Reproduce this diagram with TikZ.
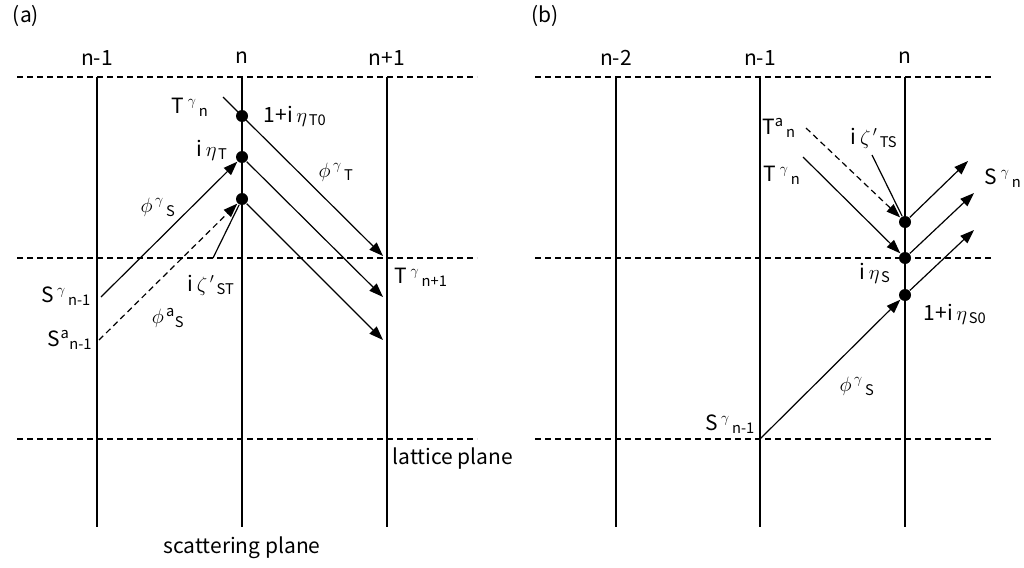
\documentclass[tikz,border=0pt]{standalone}
\usepackage{amsmath}
\usepackage{fontspec}
\setmainfont{Noto Sans CJK JP}
\usetikzlibrary{arrows.meta}
\tikzset{>={Triangle[length=14pt,width=10pt]},every node/.style={font=\fontsize{21}{24}\selectfont,inner sep=1pt},
wave/.style={->},lat/.style={dash pattern=on 6pt off 4pt},dot/.style={circle,fill,inner sep=0pt,minimum size=12pt}}

\begin{document}
\begin{tikzpicture}[x=1pt,y=-1pt,line width=1.2pt]
\useasboundingbox (0,0) rectangle (1024,567);
% (a) : onde T diffusee au plan n
\node (pa) at (26,16) {(a)};
\foreach \y in {77,258,439} \draw[lat] (17,\y)--(477,\y);
\foreach \x/\t in {97/n-1,242/n,387/n+1}{
\draw (\x,77)--(\x,527);
\node (la\x) at (\x,58) {\t};}
\node[dot] (a1) at (242,116) {};
\node[dot] (a2) at (242,157) {};
\node[dot] (a3) at (242,199) {};
\coordinate (aT) at (223,97);
\coordinate (aSg) at (101,297);
\coordinate (aSa) at (99,340);
\coordinate (aZ) at (213,258);
\coordinate (aE1) at (383,256);
\coordinate (aE2) at (383,297);
\coordinate (aE3) at (383,340);
\draw[wave] (aT)--(a1.center)--(aE1);
\draw[wave] (a2)--(aE2);
\draw[wave] (a3)--(aE3);
\draw[wave] (aSg)--(a2);
\draw[wave,lat] (aSa)--(a3);
\draw (aZ)--(a3);
\node (aTl) at (190,107) {T\,$^{\gamma}{}_{\,\text{n}}$};
\node (aEt0) at (295,116) {1+i\,$\eta_{\,\text{T0}}$};
\node (aEt) at (212,150) {i\,$\eta_{\,\text{T}}$};
\node (aPt) at (336,172) {$\phi^{\,\gamma}{}_{\,\text{T}}$};
\node (aPs) at (158,207) {$\phi^{\,\gamma}{}_{\,\text{S}}$};
\node (aZl) at (211,285) {i\,$\zeta^{\,\prime}{}_{\,\text{ST}}$};
\node (aSgl) at (66,296) {S\,$^{\gamma}{}_{\,\text{n-1}}$};
\node (aSal) at (70,340) {S$^{\text{a}}{}_{\text{n-1}}$};
\node (aPa) at (168,318) {$\phi^{\,\text{a}}{}_{\text{S}}$};
\node (aTn) at (421,277) {T\,$^{\gamma}{}_{\,\text{n+1}}$};
\node[anchor=west] (latt) at (391,459) {lattice plane};
\node (scat) at (242,548) {scattering plane};
% (b) : onde S diffusee au plan n
\node (pb) at (545,16) {(b)};
\foreach \y in {77,258,439} \draw[lat] (535,\y)--(992,\y);
\foreach \x/\t in {616/n-2,760/n-1,905/n}{
\draw (\x,77)--(\x,527);
\node (lb\x) at (\x,58) {\t};}
\node[dot] (b1) at (905,222) {};
\node[dot] (b2) at (905,258) {};
\node[dot] (b3) at (905,295) {};
\coordinate (bTa) at (806,128);
\coordinate (bTg) at (803,157);
\coordinate (bZ) at (872,155);
\coordinate (bS) at (760,439);
\coordinate (bE1) at (968,161);
\coordinate (bE2) at (974,193);
\coordinate (bE3) at (974,230);
\draw[wave,lat] (bTa)--(b1);
\draw[wave] (bTg)--(b2);
\draw (bZ)--(b1);
\draw[wave] (b1)--(bE1);
\draw[wave] (b2)--(bE2);
\draw[wave] (b3)--(bE3);
\draw[wave] (bS)--(b3);
\node (bTal) at (779,128) {T$^{\text{a}}{}_{\,\text{n}}$};
\node (bTgl) at (782,175) {T\,$^{\gamma}{}_{\,\text{n}}$};
\node (bZl) at (874,138) {i\,$\zeta^{\,\prime}{}_{\,\text{TS}}$};
\node (bSn) at (1003,178) {S\,$^{\gamma}{}_{\,\text{n}}$};
\node (bEs) at (875,273) {i\,$\eta_{\,\text{S}}$};
\node (bEs0) at (955,314) {1+i\,$\eta_{\,\text{S0}}$};
\node (bPs) at (857,386) {$\phi^{\,\gamma}{}_{\,\text{S}}$};
\node (bSl) at (730,424) {S\,$^{\gamma}{}_{\,\text{n-1}}$};
\end{tikzpicture}
\end{document}
